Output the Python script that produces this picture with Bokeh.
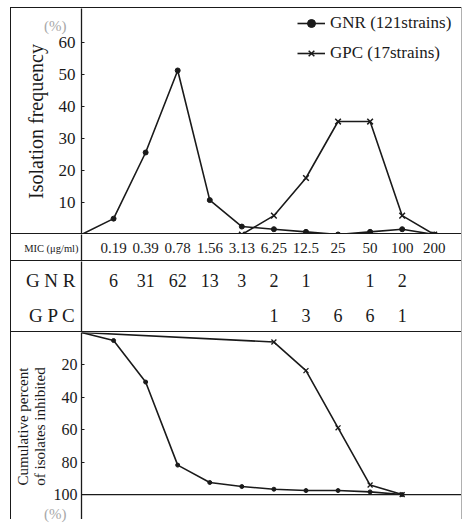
import numpy as np
from bokeh.plotting import figure
from bokeh.layouts import column
from bokeh.models import Range1d, FixedTicker, Legend, LegendItem, Span, ColumnDataSource, Div
from bokeh.embed import file_html
from bokeh.resources import INLINE
from bokeh.core.properties import value

# ---------------- data ----------------
mic_labels = ["0.19", "0.39", "0.78", "1.56", "3.13", "6.25", "12.5", "25", "50", "100", "200"]
gnr_counts = [6, 31, 62, 13, 3, 2, 1, 0, 1, 2, 0]
gpc_counts = [0, 0, 0, 0, 0, 1, 3, 6, 6, 1, 0]
gnr_total = 121
gpc_total = 17
freq_ticks = [10, 20, 30, 40, 50, 60]
cum_ticks = [20, 40, 60, 80, 100]
gnr_name = "GNR (121strains)"
gpc_name = "GPC (17strains)"
unit_text = "(%)"

# ---------------- derived ----------------
idx = list(range(1, len(mic_labels) + 1))
gnr_pct = [c / gnr_total * 100 for c in gnr_counts]
gpc_pct = [c / gpc_total * 100 for c in gpc_counts]
gnr_cum = list(np.cumsum(gnr_counts) / gnr_total * 100)
gpc_cum = list(np.cumsum(gpc_counts) / gpc_total * 100)

gnr_fx = [0] + idx
gnr_fy = [0] + gnr_pct
first_gpc = next(i for i, c in enumerate(gpc_counts) if c > 0)
gpc_fx = idx[first_gpc - 1:]
gpc_fy = gpc_pct[first_gpc - 1:]


def cum_line(cum):
    end = next(i for i, v in enumerate(cum) if v >= 99.999)
    first = next(i for i, v in enumerate(cum) if v > 0)
    xs = [0] + idx[first:end + 1]
    ys = [0] + cum[first:end + 1]
    return xs, ys


gnr_cx, gnr_cy = cum_line(gnr_cum)
gpc_cx, gpc_cy = cum_line(gpc_cum)

# ---------------- style ----------------
FONT = "Liberation Serif"
INK = "#1a1a1a"
FAINT = "#a8a8a8"
W = 450
LEFT = 65
xr = Range1d(0, 11.85)


def base(h, yr):
    p = figure(width=W, height=h, x_range=xr, y_range=yr, output_backend="svg",
               toolbar_location=None, x_axis_location=None, y_axis_location="left",
               min_border=0, min_border_left=LEFT,
               styles={"border-top": "1px solid %s" % INK})
    p.grid.visible = False
    p.outline_line_color = None
    ax = p.yaxis[0]
    ax.axis_line_color = INK
    ax.axis_line_width = 1.3
    ax.major_tick_line_color = INK
    ax.major_tick_in = 3
    ax.major_tick_out = 0
    ax.minor_tick_line_color = None
    ax.major_label_text_font = FONT
    ax.major_label_text_color = INK
    ax.axis_label_text_font = FONT
    ax.axis_label_text_font_style = "normal"
    ax.axis_label_text_color = INK
    return p


# ---------------- top: isolation frequency ----------------
pA = base(226, Range1d(0, 70.6))
axA = pA.yaxis[0]
axA.ticker = FixedTicker(ticks=freq_ticks)
axA.major_label_text_font_size = "17px"
axA.major_label_standoff = 6
axA.axis_label = "Isolation frequency"
axA.axis_label_text_font_size = "20px"
axA.axis_label_standoff = 9

l1 = pA.line(gnr_fx, gnr_fy, line_color=INK, line_width=1.6)
s1 = pA.scatter(gnr_fx[1:], gnr_fy[1:], marker="circle", size=5, color=INK)
l2 = pA.line(gpc_fx, gpc_fy, line_color=INK, line_width=1.6)
s2 = pA.scatter(gpc_fx, gpc_fy, marker="x", size=8, line_color=INK, line_width=1.5)

leg = Legend(items=[LegendItem(label=gnr_name, renderers=[l1, s1]),
                    LegendItem(label=gpc_name, renderers=[l2, s2])],
             location=(216, 171), orientation="vertical",
             border_line_color=None, background_fill_alpha=0,
             padding=4, margin=0, spacing=10,
             glyph_width=28, glyph_height=20, label_height=20,
             label_text_font=FONT, label_text_font_size="17px", label_text_color=INK)
pA.add_layout(leg)

# ---------------- MIC row ----------------
pB = base(27, Range1d(0, 1))
axB = pB.yaxis[0]
axB.ticker = FixedTicker(ticks=[0.5])
axB.major_label_overrides = {0.5: "MIC (\u03bcg/ml)"}
axB.major_tick_in = 0
axB.major_label_text_font_size = "10.5px"
axB.major_label_standoff = 3
srcB = ColumnDataSource(dict(x=idx, y=[0.5] * len(idx), t=mic_labels))
pB.text("x", "y", text="t", source=srcB, text_font=value(FONT), text_font_size="15px",
        text_color=INK, text_align="center", text_baseline="middle")

# ---------------- counts table ----------------
ROW_GNR, ROW_GPC = 52, 17
pC = base(71, Range1d(0, 71))
axC = pC.yaxis[0]
axC.ticker = FixedTicker(ticks=[ROW_GPC, ROW_GNR])
axC.major_label_overrides = {ROW_GNR: "G N R", ROW_GPC: "G P C"}
axC.major_tick_in = 0
axC.major_label_text_font_size = "19px"
axC.major_label_standoff = 6
gx = [i for i, c in zip(idx, gnr_counts) if c > 0]
gt = [str(c) for c in gnr_counts if c > 0]
px_ = [i for i, c in zip(idx, gpc_counts) if c > 0]
pt = [str(c) for c in gpc_counts if c > 0]
pC.text(gx, [ROW_GNR] * len(gx), text=gt, text_font=value(FONT), text_font_size="18px",
        text_color=INK, text_align="center", text_baseline="middle")
pC.text(px_, [ROW_GPC] * len(px_), text=pt, text_font=value(FONT), text_font_size="18px",
        text_color=INK, text_align="center", text_baseline="middle")

# ---------------- bottom: cumulative ----------------
pD = base(188, Range1d(116.0, 0))
axD = pD.yaxis[0]
axD.ticker = FixedTicker(ticks=cum_ticks)
axD.major_label_text_font_size = "16px"
axD.major_label_standoff = 4
axD.axis_label = "Cumulative percent\nof isolates inhibited"
axD.axis_label_text_font_size = "15px"
axD.axis_label_text_line_height = 1.05
axD.axis_label_standoff = 3
pD.add_layout(Span(location=100, dimension="width", line_color=INK, line_width=1.3))
pD.line(gnr_cx, gnr_cy, line_color=INK, line_width=1.6)
pD.scatter(gnr_cx[1:], gnr_cy[1:], marker="circle", size=4, color=INK)
pD.line(gpc_cx, gpc_cy, line_color=INK, line_width=1.6)
pD.scatter(gpc_cx[1:], gpc_cy[1:], marker="x", size=7, line_color=INK, line_width=1.3)


def unit_div(top):
    return Div(text=unit_text, styles={"position": "absolute", "left": "28px", "top": "%dpx" % top,
                                      "color": FAINT, "font-family": FONT, "font-size": "15px",
                                      "z-index": "20", "line-height": "15px"})


layout = column(pA, pB, pC, pD, unit_div(7), unit_div(495), spacing=0,
                styles={"position": "relative",
                        "border-left": "1px solid %s" % INK, "border-right": "1px solid #b0b0b0",
                        "margin-left": "10px", "margin-top": "7px"})

open("out.html", "w").write(file_html(layout, INLINE))
